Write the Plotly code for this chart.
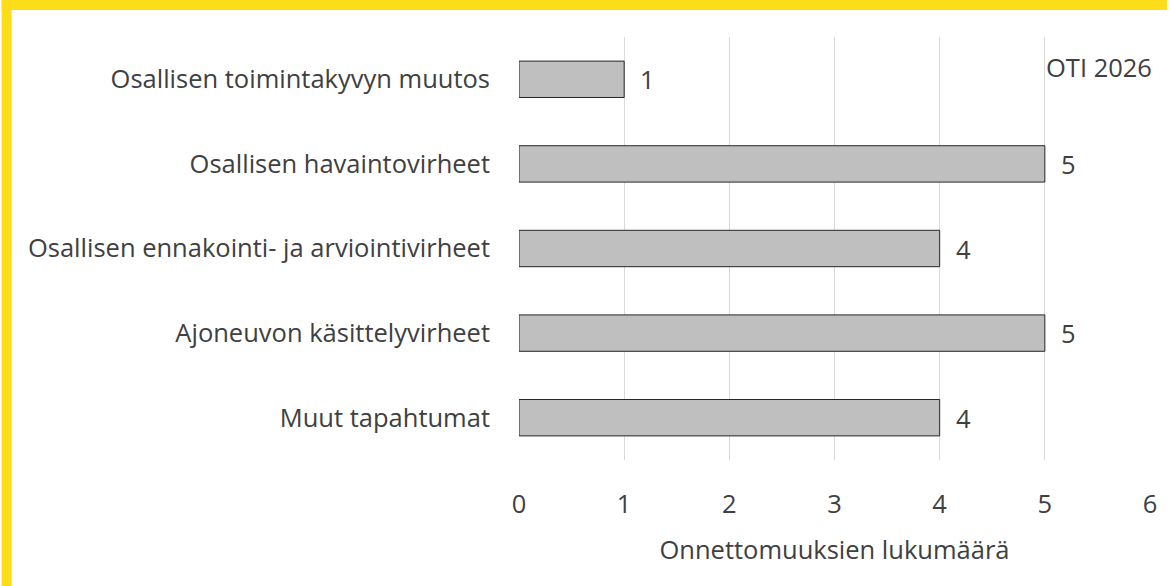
import plotly.graph_objects as go

# Data
categories = [
    "Osallisen toimintakyvyn muutos",
    "Osallisen havaintovirheet",
    "Osallisen ennakointi- ja arviointivirheet",
    "Ajoneuvon käsittelyvirheet",
    "Muut tapahtumat",
]
counts = [1, 5, 4, 5, 4]
x_ticks = [0, 1, 2, 3, 4, 5, 6]
x_title = "Onnettomuuksien lukumäärä"
source_note = "OTI 2026"

FONT = "Open Sans, Noto Sans, DejaVu Sans, sans-serif"
TEXT_COLOR = "#404040"
YELLOW = "#FDDC1A"
FS = 25.5

W, H = 1169, 586
ML, MR, MT, MB = 519, 17, 37, 126
PW, PH = W - ML - MR, H - MT - MB

fig = go.Figure()
fig.add_trace(go.Bar(
    x=counts,
    y=categories,
    orientation="h",
    marker=dict(color="#BFBFBF", line=dict(color="#262626", width=1)),
    width=0.43,
    hoverinfo="skip",
))

# value labels next to bar ends
value_labels = [
    dict(x=c, y=cat, text=str(c), xref="x", yref="y", xanchor="left",
         yanchor="middle", xshift=14, yshift=0, showarrow=False,
         font=dict(size=FS, color=TEXT_COLOR, family=FONT))
    for c, cat in zip(counts, categories)
]

fig.update_layout(
    width=W,
    height=H,
    paper_bgcolor="white",
    plot_bgcolor="white",
    margin=dict(l=ML, r=MR, t=MT, b=MB),
    font=dict(family=FONT, size=FS, color=TEXT_COLOR),
    showlegend=False,
    shapes=[
        # yellow frame on left and top
        dict(type="rect", xref="paper", yref="paper",
             x0=-ML / PW, x1=(10 - ML) / PW,
             y0=-MB / PH, y1=(H - MB) / PH,
             fillcolor=YELLOW, line_width=0, layer="below"),
        dict(type="rect", xref="paper", yref="paper",
             x0=-ML / PW, x1=(W - ML) / PW,
             y0=(H - MB - 10) / PH, y1=(H - MB) / PH,
             fillcolor=YELLOW, line_width=0, layer="below"),
    ],
    annotations=value_labels + [
        dict(text=source_note, xref="paper", yref="paper", x=1.0, y=0.93,
             xanchor="right", yanchor="middle", xshift=4, showarrow=False,
             font=dict(size=FS, color=TEXT_COLOR, family=FONT)),
    ],
)

fig.update_xaxes(
    range=[0, 6],
    tickvals=x_ticks,
    showgrid=True,
    gridcolor="#D9D9D9",
    gridwidth=1,
    zeroline=False,
    showline=False,
    ticks="",
    ticklabelstandoff=26,
    tickfont=dict(size=FS, color=TEXT_COLOR),
    title=dict(text=x_title, font=dict(size=FS, color=TEXT_COLOR), standoff=22),
    fixedrange=True,
)
fig.update_yaxes(
    autorange="reversed",
    showgrid=False,
    showline=False,
    ticks="",
    ticklabelstandoff=28,
    tickfont=dict(size=FS, color=TEXT_COLOR),
    fixedrange=True,
)

fig.write_html(
    "out.html",
    config={"displayModeBar": False},
    post_script="document.body.style.margin='0';",
)
